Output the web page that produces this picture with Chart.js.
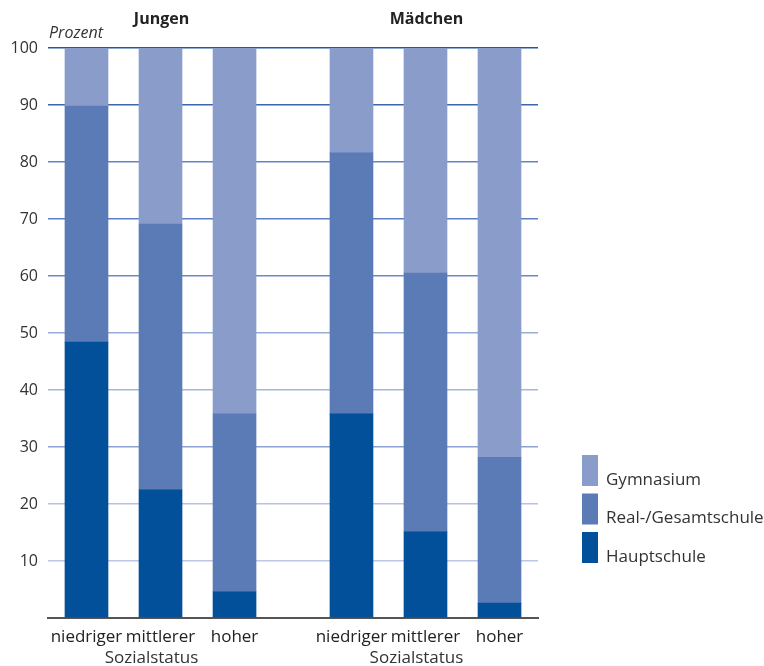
<!DOCTYPE html>
<html><head><meta charset="utf-8">
<script src="https://cdn.jsdelivr.net/npm/chart.js@4"></script>
<style>html,body{margin:0;padding:0;background:#fff}#wrap{width:764px;height:666px}</style>
</head><body><div id="wrap"><canvas id="c" width="764" height="666"></canvas></div>
<script>
const groups = ['Jungen', 'Mädchen'];
const statusLabels = ['niedriger', 'mittlerer', 'hoher'];
const axisTitle = 'Sozialstatus';
const yTicks = [10, 20, 30, 40, 50, 60, 70, 80, 90, 100];
// values per bar: Jungen niedriger, mittlerer, hoher, Mädchen niedriger, mittlerer, hoher
const hauptschule = [48.4, 22.5, 4.6, 35.8, 15.1, 2.6];
const realGesamt  = [41.4, 46.6, 31.2, 45.8, 45.4, 25.6];
const gymnasium   = [10.2, 30.9, 64.2, 18.4, 39.5, 71.8];
const seriesNames = ['Hauptschule', 'Real-/Gesamtschule', 'Gymnasium'];

const colors = ['#03509a', '#5b7bb6', '#8a9dca'];
const GROUP_STEP = 3.58; // layout spacing between groups (x units)
const xPos = [];
groups.forEach((g, gi) => statusLabels.forEach((s, si) => xPos.push(gi * GROUP_STEP + si)));
const mk = vals => vals.map((v, i) => ({ x: xPos[i], y: v }));
const gridColors = {100:'#1f58a6',90:'#3a66ae',80:'#6585c2',70:'#5b7fc0',60:'#6a89c6',50:'#98acd8',40:'#a6b6dc',30:'#8ea3d4',20:'#b6c2e4',10:'#bcc6e6'};
const FONT = '"Open Sans", "Liberation Sans", sans-serif';

const overlay = {
  id: 'overlay',
  afterDraw(chart) {
    const ctx = chart.ctx, xs = chart.scales.x;
    ctx.save();
    ctx.fillStyle = '#222';
    ctx.textAlign = 'center';
    ctx.textBaseline = 'middle';
    ctx.font = 'bold 16px ' + FONT;
    groups.forEach((g, gi) => {
      ctx.fillText(g, xs.getPixelForValue(gi * GROUP_STEP + 1) + 1, 19);
    });
    ctx.font = 'italic 16px ' + FONT;
    ctx.textAlign = 'left';
    ctx.fillStyle = '#333';
    ctx.fillText('Prozent', 49, 33);
    ctx.font = '17px ' + FONT;
    ctx.fillStyle = '#333';
    groups.forEach((g, gi) => {
      ctx.textAlign = 'center';
      ctx.fillText(axisTitle, xs.getPixelForValue(gi * GROUP_STEP + 1) - 9, 658);
    });
    // legend (reverse order)
    const order = [2, 1, 0];
    ctx.font = '17px ' + FONT;
    order.forEach((di, k) => {
      const y0 = 455 + k * 38.5;
      ctx.fillStyle = colors[di];
      ctx.fillRect(582, y0, 16, 31);
      ctx.fillStyle = '#333';
      ctx.textAlign = 'left';
      ctx.fillText(seriesNames[di], 606, y0 + 25);
    });
    ctx.restore();
  }
};

new Chart(document.getElementById('c'), {
  type: 'bar',
  data: {
    datasets: [
      { label: seriesNames[0], data: mk(hauptschule), backgroundColor: colors[0] },
      { label: seriesNames[1], data: mk(realGesamt), backgroundColor: colors[1] },
      { label: seriesNames[2], data: mk(gymnasium), backgroundColor: colors[2] }
    ]
  },
  options: {
    responsive: false,
    animation: false,
    layout: { padding: { top: 48, right: 226, left: 0, bottom: 0 } },
    datasets: { bar: { barThickness: 43 } },
    plugins: { legend: { display: false }, tooltip: { enabled: false } },
    scales: {
      x: {
        type: 'linear', stacked: true, offset: false,
        min: -0.52, max: 6.10,
        afterBuildTicks: s => { s.ticks = xPos.map(v => ({ value: v })); },
        afterFit: s => { s.height = 48; },
        ticks: {
          autoSkip: false, maxRotation: 0, padding: 9,
          color: '#222', font: { family: FONT, size: 17 },
          callback: (v, i) => statusLabels[i % 3]
        },
        grid: { display: false, drawTicks: false, offset: false },
        border: { display: true, color: '#555', width: 2 }
      },
      y: {
        stacked: true, min: 0, max: 100,
        afterBuildTicks: s => { s.ticks = [0, ...yTicks].map(v => ({ value: v })); },
        afterFit: s => { s.width = 48; },
        ticks: {
          padding: 10, color: '#333', font: { family: FONT, size: 16 },
          callback: v => v === 0 ? '' : String(v)
        },
        grid: {
          drawTicks: false, lineWidth: 1.6,
          color: c => c.tick && c.tick.value !== 0 ? (gridColors[c.tick.value] || '#8aa0d4') : 'rgba(0,0,0,0)'
        },
        border: { display: false }
      }
    }
  },
  plugins: [overlay]
});
</script></body></html>
